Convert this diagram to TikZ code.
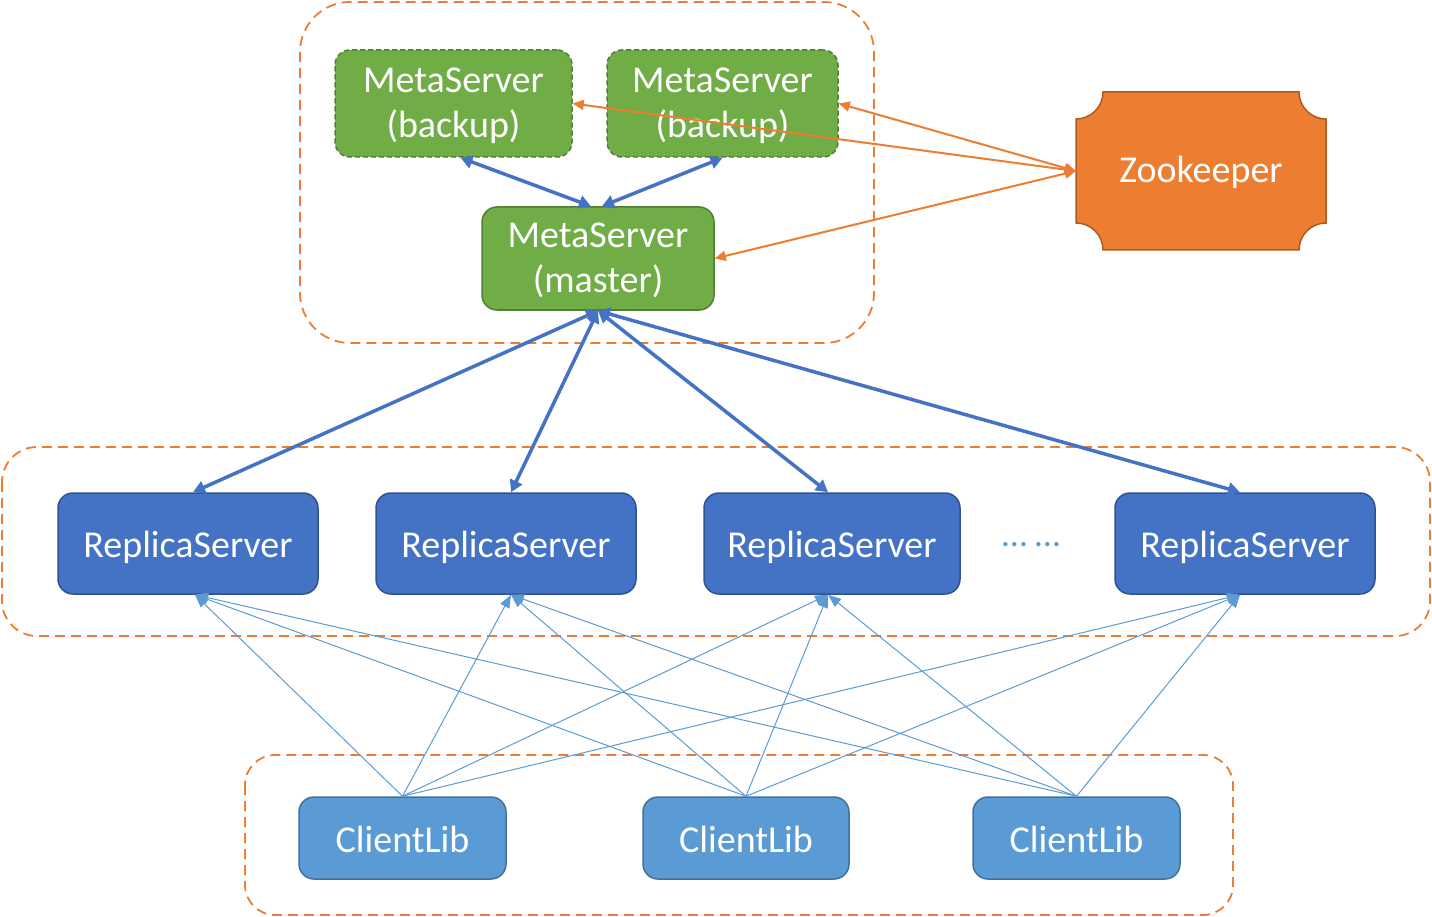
\documentclass[tikz,border=0pt]{standalone}
\usepackage{fontspec}
\setmainfont{Carlito}
\usetikzlibrary{arrows.meta}
\definecolor{gfill}{HTML}{70AD47}
\definecolor{gline}{HTML}{507E32}
\definecolor{bfill}{HTML}{4472C4}
\definecolor{bline}{HTML}{2F528F}
\definecolor{lfill}{HTML}{5B9BD5}
\definecolor{lline}{HTML}{41719C}
\definecolor{ofill}{HTML}{ED7D31}
\definecolor{oline}{HTML}{AE5A21}
\tikzset{
  box/.style={rounded corners=15pt, line width=1.5pt, text=white, align=center,
    font=\fontsize{38}{45}\selectfont, inner sep=0pt},
  metabox/.style={box, fill=gfill, draw=gline, text height=78pt, text depth=9pt},
  backupbox/.style={metabox, dashed, dash pattern=on 5pt off 3pt},
  replicabox/.style={box, fill=bfill, draw=bline, minimum width=258pt, minimum height=101pt, text height=35pt, text depth=8pt},
  clientbox/.style={box, fill=lfill, draw=lline, minimum width=206pt, minimum height=82pt, text height=36pt, text depth=8pt},
  region/.style={draw=ofill, line width=1.8pt, dash pattern=on 10pt off 6pt},
  thickarrow/.style={draw=bfill, line width=3.5pt, {Triangle[length=12pt,width=13pt]}-{Triangle[length=12pt,width=13pt]}},
  thinarrow/.style={draw=lfill, line width=1pt, -{Triangle[length=13pt,width=10pt]}},
  zkarrow/.style={draw=ofill, line width=2pt, {Triangle[length=11pt,width=10pt]}-{Triangle[length=11pt,width=10pt]}},
}
\begin{document}
\begin{tikzpicture}[x=1pt,y=-1pt]
\useasboundingbox (0,0) rectangle (1432,917);
% regions
\draw[region, rounded corners=50pt] (300,2) rectangle (874,343);
\draw[region, rounded corners=35pt] (2,447) rectangle (1430,636);
\draw[region, rounded corners=30pt] (245,755) rectangle (1233,915);
% meta servers
\node[backupbox, minimum width=237pt, minimum height=107pt] (b1) at (453.5,103.5) {MetaServer\\(backup)};
\node[backupbox, minimum width=231pt, minimum height=107pt] (b2) at (722.5,103.5) {MetaServer\\(backup)};
\node[metabox, minimum width=232pt, minimum height=103pt] (m) at (598,258.5) {MetaServer\\(master)};
% zookeeper
\fill[ofill, draw=oline, line width=1.5pt] (1103,92) -- (1299,92)
  arc[start angle=180,end angle=270,radius=27pt] -- (1326,223)
  arc[start angle=90,end angle=180,radius=27pt] -- (1103,250)
  arc[start angle=0,end angle=90,radius=27pt] -- (1076,119)
  arc[start angle=270,end angle=360,radius=27pt] -- cycle;
\node[text=white, font=\fontsize{38}{45}\selectfont, minimum width=250pt, minimum height=158pt, inner sep=0pt, text height=32pt, text depth=8pt] (zk) at (1201,171) {Zookeeper};
% replica servers
\node[replicabox, minimum width=260pt] (r1) at (188,543.5) {ReplicaServer};
\node[replicabox, minimum width=260pt] (r2) at (506,543.5) {ReplicaServer};
\node[replicabox, minimum width=256pt] (r3) at (832,543.5) {ReplicaServer};
\node[replicabox, minimum width=260pt] (r4) at (1245,543.5) {ReplicaServer};
\node[text=lfill, font=\fontsize{36}{45}\selectfont, anchor=base, inner sep=0pt] (dots) at (1031,546) {… …};
% clients
\node[clientbox, minimum width=207pt] (c1) at (402.5,838) {ClientLib};
\node[clientbox] (c2) at (746,838) {ClientLib};
\node[clientbox, minimum width=207pt] (c3) at (1076.5,838) {ClientLib};
% thin arrows
\foreach \c in {c1,c2,c3}{
  \draw[thinarrow] (\c.north) -- ([xshift=7pt]r1.south);
  \draw[thinarrow] (\c.north) -- ([xshift=5pt]r2.south);
  \draw[thinarrow] (\c.north) -- ([xshift=-4pt]r3.south);
  \draw[thinarrow] (\c.north) -- ([xshift=-5pt]r4.south);
}
% thick arrows
\draw[thickarrow] ([xshift=7pt]b1.south) -- ([xshift=-7pt]m.north);
\draw[thickarrow] (b2.south) -- ([xshift=4pt]m.north);
\draw[thickarrow] (m.south) -- ([xshift=5pt]r1.north);
\draw[thickarrow] (m.south) -- ([xshift=5pt]r2.north);
\draw[thickarrow] (m.south) -- ([xshift=-4pt]r3.north);
\draw[thickarrow] (m.south) -- ([xshift=-5pt]r4.north);
% zookeeper arrows
\draw[zkarrow] (zk.west) -- (b1.east);
\draw[zkarrow] (zk.west) -- (b2.east);
\draw[zkarrow] (zk.west) -- (m.east);
\end{tikzpicture}
\end{document}
